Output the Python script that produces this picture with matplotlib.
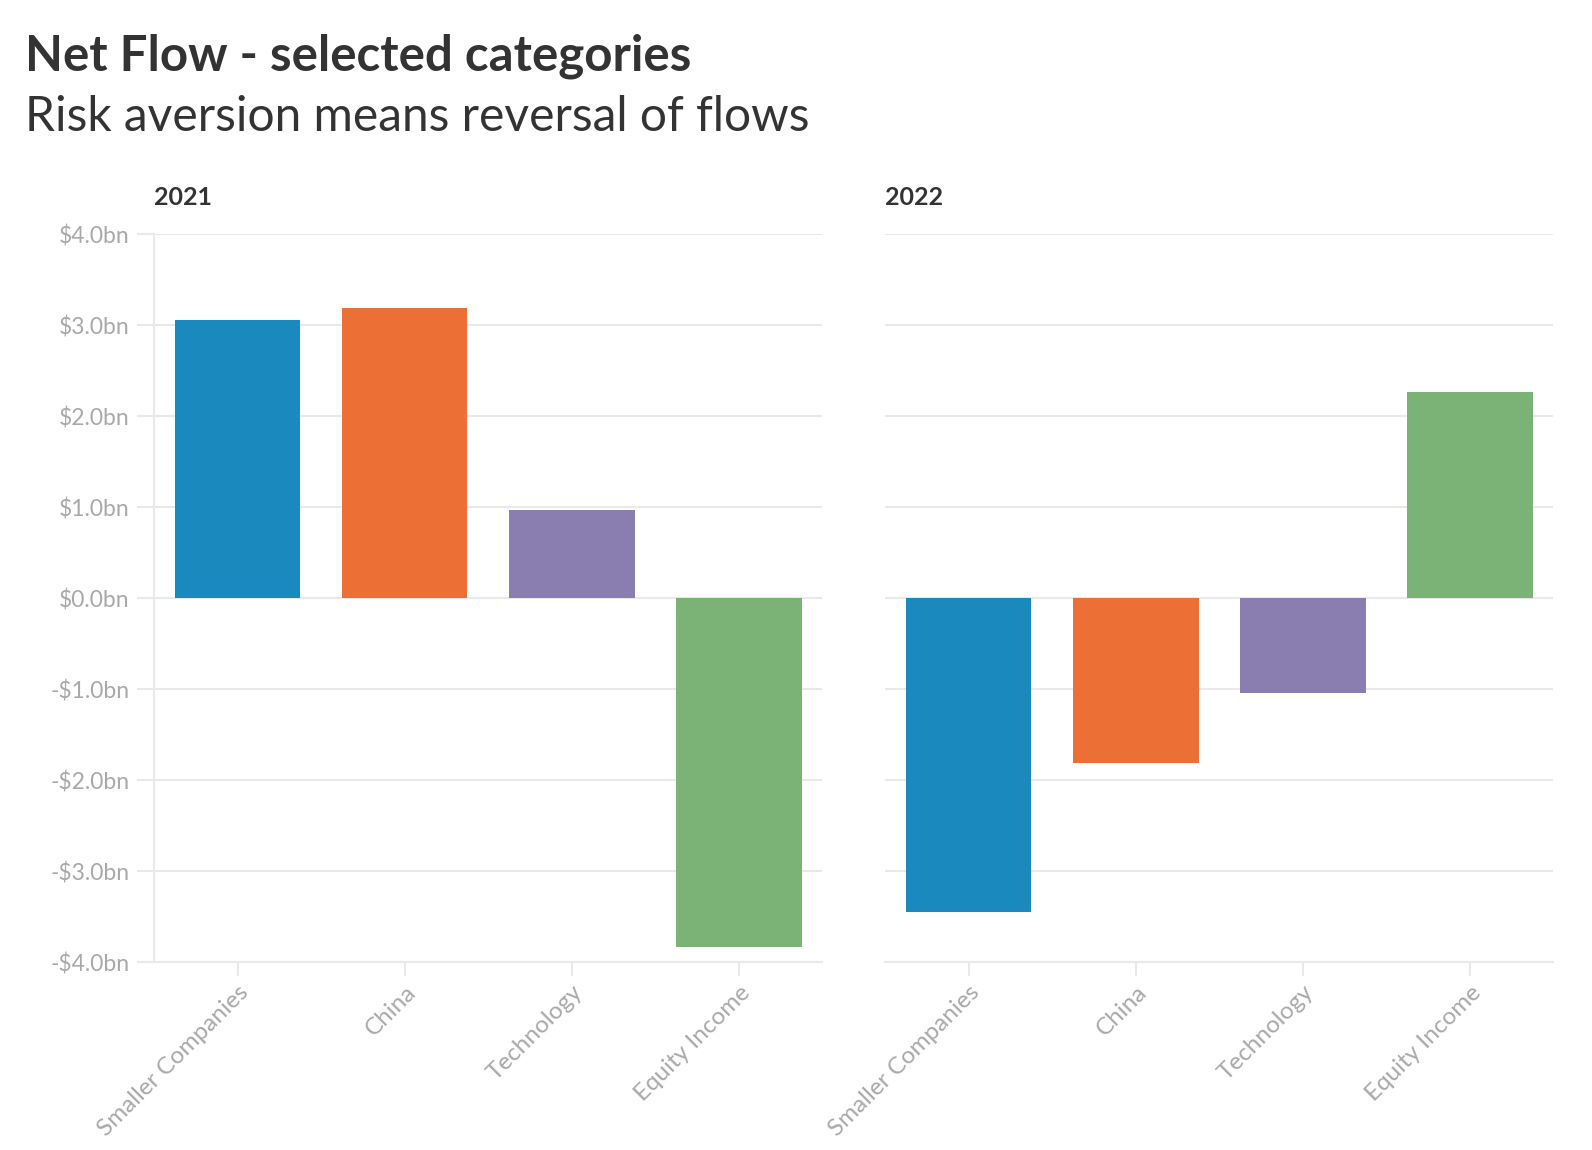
import numpy as np
import matplotlib as mpl
import matplotlib.pyplot as plt
from matplotlib.ticker import FuncFormatter

categories = ["Smaller Companies", "China", "Technology", "Equity Income"]
flows_2021 = [3.06, 3.19, 0.97, -3.83]
flows_2022 = [-3.45, -1.81, -1.04, 2.27]
years = ["2021", "2022"]
colors = ["#1a89bd", "#ec7035", "#8a7db0", "#7bb377"]
yticks = [-4, -3, -2, -1, 0, 1, 2, 3, 4]

GRID = "#e9e9e9"
TICK_TXT = "#a9a9a9"
DARK = "#333333"

mpl.rcParams.update({
    "font.family": ["Lato", "DejaVu Sans"],
})


def fmt_bn(v, _pos):
    sign = "-" if v < 0 else ""
    return f"{sign}${abs(v):.1f}bn"


fig = plt.figure(figsize=(15.92, 11.5), dpi=100)
fig.patch.set_facecolor("white")

# pixel positions (display scale)
W, H = 1568.0, 1133.0
boxes = [
    (152 / W, 1 - 948 / H, (810 - 152) / W, (948 - 231) / H),
    (872 / W, 1 - 948 / H, (1530 - 872) / W, (948 - 231) / H),
]

x = np.arange(len(categories))
for i, (box, year, vals) in enumerate(zip(boxes, years, [flows_2021, flows_2022])):
    ax = fig.add_axes(box)
    ax.bar(x, vals, width=0.75, color=colors, zorder=3)
    ax.set_xlim(-0.5, len(categories) - 0.5)
    ax.set_ylim(-4, 4)
    ax.set_yticks(yticks)
    ax.yaxis.grid(True, color=GRID, lw=1.5, zorder=0)
    ax.set_axisbelow(True)
    for s in ("top", "right", "bottom"):
        ax.spines[s].set_visible(False)
    ax.spines["left"].set_color(GRID)
    ax.spines["left"].set_linewidth(1.5)
    ax.axhline(-4, color=GRID, lw=1.5, zorder=1, clip_on=False)
    ax.set_xticks(x)
    ax.set_xticklabels(categories, rotation=45, ha="right",
                       rotation_mode="anchor", color=TICK_TXT, fontsize=17.5)
    ax.tick_params(axis="x", length=10, width=1.5, color=GRID, pad=4)
    if i == 0:
        ax.yaxis.set_major_formatter(FuncFormatter(fmt_bn))
        ax.tick_params(axis="y", length=12, width=1.5, color=GRID,
                       labelcolor=TICK_TXT, labelsize=16.5, pad=6)
    else:
        ax.spines["left"].set_visible(False)
        ax.tick_params(axis="y", length=0, labelleft=False)
    ax.text(0.0, 1.035, year, transform=ax.transAxes, fontsize=18,
            fontweight="bold", color=DARK, ha="left", va="bottom")

fig.text(25 / W, 1 - 55 / H, "Net Flow - selected categories",
         fontsize=35.5, fontweight="bold", color=DARK, ha="left", va="center")
fig.text(25 / W, 1 - 115 / H, "Risk aversion means reversal of flows",
         fontsize=34.5, color=DARK, ha="left", va="center")

fig.savefig("out.png", dpi=100, facecolor="white")
